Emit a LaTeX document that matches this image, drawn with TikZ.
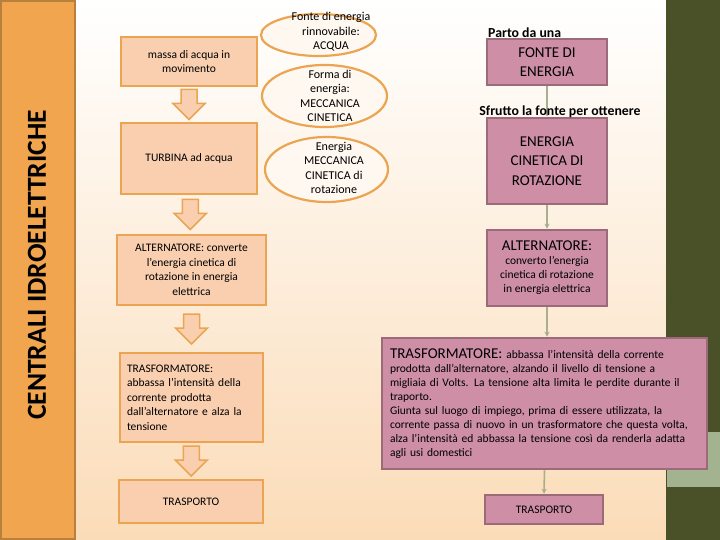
\documentclass[tikz,border=0pt]{standalone}
\usepackage{fontspec}
\setmainfont{Carlito}
\usepackage{tikz}
\usetikzlibrary{calc, arrows.meta, shapes.geometric}
\usepackage{xcolor}

\definecolor{barra}{HTML}{F1A54E}
\definecolor{barrabordo}{HTML}{B8803C}
\definecolor{pesca}{HTML}{F9CFB0}
\definecolor{arancio}{HTML}{EBA552}
\definecolor{fondo}{HTML}{FBDCB8}
\definecolor{oliva}{HTML}{4A5028}
\definecolor{salvia}{HTML}{A3B38F}
\definecolor{rosa}{HTML}{CD8EA6}
\definecolor{rosabordo}{HTML}{9C6B7A}
\definecolor{filoverde}{HTML}{A8AE8E}
\definecolor{ovalefill}{HTML}{FFF8F0}

% freccia a blocco verso il basso, centrata sulla coordinata #1
\newcommand{\frecciagiu}[1]{%
  \draw[blocco] ($(#1)+(-8,-15)$) -- ++(16,0) -- ++(0,14) -- ++(8,0)
    -- ++(-16,16) -- ++(-16,-16) -- ++(8,0) -- cycle;}

\begin{document}
\begin{tikzpicture}[x=1pt, y=-1pt, >={Stealth[length=5pt, width=5pt]},
    scatola/.style={draw=arancio, line width=1.5pt, fill=pesca, inner sep=0pt,
      align=center, font=\fontsize{11.5}{14.5}\selectfont},
    ovale/.style={ellipse, draw=arancio, line width=2.2pt, fill=ovalefill, inner sep=0pt},
    testoovale/.style={align=center, font=\fontsize{12}{14.5}\selectfont, inner sep=0pt},
    rosabox/.style={draw=rosabordo, line width=2.5pt, fill=rosa, inner sep=0pt,
      align=center, font=\fontsize{11.5}{14}\selectfont},
    blocco/.style={draw=arancio, line width=1.5pt, fill=pesca, line join=miter},
    filo/.style={->, draw=filoverde, line width=1.6pt},
    etichetta/.style={font=\bfseries\fontsize{13.8}{15}\selectfont, inner sep=0pt}]

    % --- sfondo ---
    \useasboundingbox (0,0) rectangle (720,540);
    \shade[top color=white, bottom color=fondo] (75,0) rectangle (666,540);
    \fill[oliva] (666,0) rectangle (720,540);
    \fill[salvia] (667,432) rectangle (720,487);
    \draw[fill=barra, draw=barrabordo, line width=1.5pt] (1,1) rectangle (75,539);
    \node[rotate=90, font=\bfseries\fontsize{27.5}{27.5}\selectfont] (titolo) at (37,265) {CENTRALI IDROELETTRICHE};

    % --- colonna di sinistra ---
    \node[scatola, minimum width=136, minimum height=49] (b1) at (189,61.5)
      {massa di acqua in\\movimento};
    \node[scatola, minimum width=136, minimum height=71] (b2) at (189,158.5)
      {TURBINA ad acqua};
    \node[scatola, minimum width=149, minimum height=70] (b3) at (191.5,270)
      {ALTERNATORE: converte\\l'energia cinetica di\\rotazione in energia\\elettrica};
    \node[scatola, minimum width=143, minimum height=89, text width=129, align=left] (b4) at (191.5,397.5)
      {TRASFORMATORE:\\abbassa l'intensità della\\corrente prodotta\\dall'alternatore e alza la\\tensione};
    \node[scatola, minimum width=144, minimum height=43] (b5) at (191,501.5)
      {TRASPORTO};

    % frecce a blocco tra le scatole
    \coordinate (a1) at ($(b1.south)!.5!(b2.north)$);
    \coordinate (a2) at ($(b2.south)!.5!(b3.north)$);
    \coordinate (a3) at ($(b3.south)!.5!(b4.north)$);
    \coordinate (a4) at ($(b4.south)!.5!(b5.north)$);
    \frecciagiu{a1}
    \frecciagiu{a2}
    \frecciagiu{a3}
    \frecciagiu{a4}

    % --- ovali ---
    \node[ovale, minimum width=115, minimum height=42] (e1) at (318.5,35) {};
    \node[testoovale] (t1) at (331,32) {Fonte di energia\\rinnovabile:\\ACQUA};
    \node[ovale, minimum width=125, minimum height=62] (e2) at (324.5,96) {};
    \node[testoovale] (t2) at (330,96) {Forma di\\energia:\\MECCANICA\\CINETICA};
    \node[ovale, minimum width=123, minimum height=65] (e3) at (326.5,169.5) {};
    \node[testoovale] (t3) at (334,168) {Energia\\MECCANICA\\CINETICA di\\rotazione};

    % --- colonna di destra ---
    \node[rosabox, minimum width=120, minimum height=46, font=\fontsize{15}{19}\selectfont] (p1) at (547,62)
      {FONTE DI\\ENERGIA};
    \node[rosabox, minimum width=120, minimum height=86, font=\fontsize{15}{19.5}\selectfont] (p2) at (547,161)
      {ENERGIA\\CINETICA DI\\ROTAZIONE};
    \node[rosabox, minimum width=120, minimum height=76] (p3) at (547,268)
      {{\fontsize{15}{18}\selectfont ALTERNATORE:}\\converto l'energia\\cinetica di rotazione\\in energia elettrica};
    \node[rosabox, minimum width=325, minimum height=131, text width=309, align=left] (p4) at (544.5,403.5)
      {{\fontsize{15}{18}\selectfont TRASFORMATORE:} abbassa l'intensità della corrente\\
       prodotta dall'alternatore, alzando il livello di tensione a\\
       migliaia di Volts. La tensione alta limita le perdite durante il\\
       traporto.\\
       Giunta sul luogo di impiego, prima di essere utilizzata, la\\
       corrente passa di nuovo in un trasformatore che questa volta,\\
       alza l'intensità ed abbassa la tensione così da renderla adatta\\
       agli usi domestici};
    \node[rosabox, minimum width=118, minimum height=29] (p5) at (544,509.5)
      {TRASPORTO};

    % collegamenti
    \draw[filo] (p1.south) -- (p2.north);
    \draw[filo] (p2.south) -- (p3.north);
    \draw[filo] (p3.south) -- (p4.north -| p3.south);
    \draw[filo] (p4.south) -- (p5.north);

    % etichette
    \node[etichetta, anchor=west] (parto) at (488,33) {Parto da una};
    \node[etichetta] (sfrutto) at (560,112) {Sfrutto la fonte per ottenere};

\end{tikzpicture}
\end{document}
